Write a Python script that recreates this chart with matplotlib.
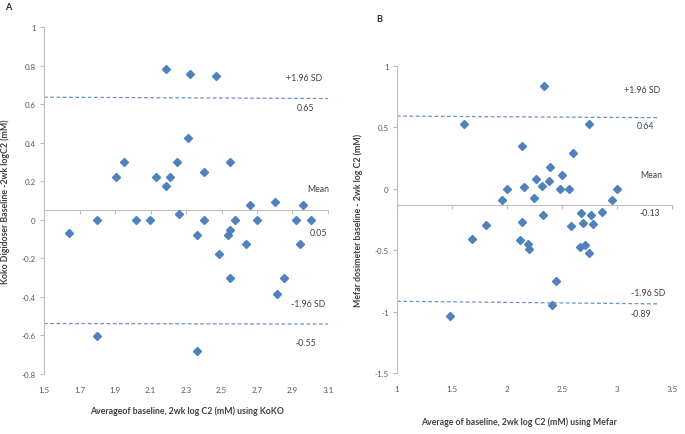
import matplotlib
matplotlib.use("Agg")
import matplotlib.pyplot as plt
import numpy as np

plt.rcParams['font.family'] = ['Lato', 'DejaVu Sans']

# Panel A data (KoKO)
a_x = [2.185, 2.321, 2.471, 2.311, 1.907, 1.949, 2.131, 2.185, 2.210, 2.249, 2.400, 2.550,
       2.661, 2.800, 2.961, 2.261, 1.641, 1.797, 2.018, 2.099, 2.360, 2.400, 2.537, 2.550,
       2.576, 2.486, 2.638, 2.700, 2.550, 2.850, 2.811, 2.922, 2.940, 3.002, 1.797, 2.360]
a_y = [0.78, 0.755, 0.745, 0.422, 0.221, 0.298, 0.224, 0.174, 0.221, 0.298, 0.247, 0.298,
       0.078, 0.091, 0.078, 0.028, -0.069, 0.0, 0.0, 0.0, -0.081, 0.0, -0.081, -0.053,
       0.0, -0.178, -0.128, 0.0, -0.303, -0.303, -0.383, 0.0, -0.128, 0.0, -0.603, -0.683]
a_mean = 0.05
a_upper = [0.636, 0.629]
a_lower = [-0.538, -0.541]
a_line_x = [1.5, 3.1]

# Panel B data (Mefar)
b_x = [2.336, 1.612, 2.742, 2.139, 2.597, 2.391, 2.500, 2.264, 2.382, 2.155, 2.315, 2.003,
       2.479, 2.564, 3.003, 1.955, 2.248, 2.958, 2.327, 2.670, 2.764, 2.864,
       1.806, 2.139, 1.682, 2.118, 2.191, 2.203, 2.582, 2.694, 2.782, 2.667, 2.712, 2.742,
       2.442, 2.412, 1.482]
b_y = [0.834, 0.524, 0.524, 0.351, 0.293, 0.177, 0.114, 0.079, 0.065, 0.014, 0.024, 0.0,
       0.0, 0.0, 0.0, -0.090, -0.073, -0.090, -0.217, -0.196, -0.217, -0.190,
       -0.291, -0.272, -0.405, -0.421, -0.451, -0.489, -0.302, -0.280, -0.283, -0.476, -0.457, -0.522,
       -0.750, -0.948, -1.033]
b_mean = -0.13
b_upper = [0.592, 0.579]
b_lower = [-0.916, -0.937]
b_line_x = [1.0, 3.37]

a_xticks = [1.5, 1.7, 1.9, 2.1, 2.3, 2.5, 2.7, 2.9, 3.1]
a_yticks = [-0.8, -0.6, -0.4, -0.2, 0, 0.2, 0.4, 0.6, 0.8, 1]
b_xticks = [1, 1.5, 2, 2.5, 3, 3.5]
b_yticks = [-1.5, -1, -0.5, 0, 0.5, 1]

a_labels = [("+1.96 SD", 2.965, 0.739), ("0.65", 2.976, 0.584), ("Mean", 3.044, 0.16),
            ("0.05", 3.044, -0.067), ("-1.96 SD", 2.987, -0.434), ("-0.55", 2.976, -0.636)]
b_labels = [("+1.96 SD", 3.227, 0.805), ("0.64", 3.255, 0.512), ("Mean", 3.309, 0.114),
            ("-0.13", 3.30, -0.195), ("-1.96 SD", 3.282, -0.846), ("-0.89", 3.218, -1.016)]

MARK = '#4F81BD'
AXC = '#BFBFBF'
TXT = '#595959'
DARK = '#404040'

fig = plt.figure(figsize=(6.85, 4.35), dpi=100)
fig.patch.set_facecolor('white')

def fmt(v):
    s = ('%g' % v)
    return s

def panel(rect, xs, ys, mean, upper, lower, line_x, xticks, yticks, xlim, ylim,
          labels, xlabel, ylabel, xl_coords, yl_coords):
    ax = fig.add_axes(rect)
    ax.set_xlim(*xlim)
    ax.set_ylim(*ylim)
    for s in ['top', 'right', 'bottom']:
        ax.spines[s].set_visible(False)
    ax.spines['left'].set_color(AXC)
    ax.spines['left'].set_linewidth(0.8)
    ax.set_xticks(xticks)
    ax.set_xticklabels([fmt(v) for v in xticks])
    ax.set_yticks(yticks)
    ax.set_yticklabels([fmt(v) for v in yticks])
    ax.tick_params(axis='x', length=0, pad=9, labelsize=5.8, labelcolor=TXT)
    ax.tick_params(axis='y', length=3, width=0.8, color=AXC, pad=3, labelsize=5.8, labelcolor=TXT)
    sec = ax.secondary_xaxis(mean, transform=ax.transData)
    sec.set_xticks(xticks)
    sec.tick_params(axis='x', direction='out', length=3, width=0.8, color=AXC, labelbottom=False, labeltop=False)
    sec.spines['bottom'].set_color(AXC)
    sec.spines['bottom'].set_linewidth(0.8)
    sec.spines['top'].set_color(AXC)
    sec.spines['top'].set_linewidth(0.8)
    ax.plot(xs, ys, linestyle='none', marker='D', markersize=4.2, color=MARK, clip_on=False, zorder=5)
    ax.plot(line_x, upper, linestyle=(0, (3, 2)), color='#4F81BD', linewidth=0.9, alpha=0.85)
    ax.plot(line_x, lower, linestyle=(0, (3, 2)), color='#4F81BD', linewidth=0.9, alpha=0.85)
    for t, x, y in labels:
        ax.text(x, y, t, ha='center', va='center', fontsize=6.3, color=DARK)
    ax.set_xlabel(xlabel, fontsize=6.3, fontweight='bold', color=DARK)
    ax.set_ylabel(ylabel, fontsize=6.3, fontweight='bold', color=DARK)
    ax.xaxis.set_label_coords(*xl_coords)
    ax.yaxis.set_label_coords(*yl_coords)
    return ax

panel([44/685, 60/435, 284/685, 347/435], a_x, a_y, a_mean, a_upper, a_lower, a_line_x,
      a_xticks, a_yticks, (1.5, 3.1), (-0.8, 1.0), a_labels,
      'Averageof baseline, 2wk log C2 (mM) using KoKO',
      'Koko Digidoser Baseline -2wk logC2 (mM)', (0.503, -0.092), (-0.12, 0.5))

panel([397/685, 61/435, 275/685, 307/435], b_x, b_y, b_mean, b_upper, b_lower, b_line_x,
      b_xticks, b_yticks, (1.0, 3.5), (-1.5, 1.0), b_labels,
      'Average of baseline, 2wk log C2 (mM) using Mefar',
      'Mefar dosimeter baseline - 2wk log C2 (mM)', (0.444, -0.14), (-0.124, 0.5))

fig.text(8/685, 1 - 8/435, 'A', fontsize=6.5, fontweight='bold', color='#262626', ha='center', va='center')
fig.text(379/685, 1 - 19/435, 'B', fontsize=6.5, fontweight='bold', color='#262626', ha='center', va='center')

fig.savefig('out.png', dpi=100, facecolor='white')
